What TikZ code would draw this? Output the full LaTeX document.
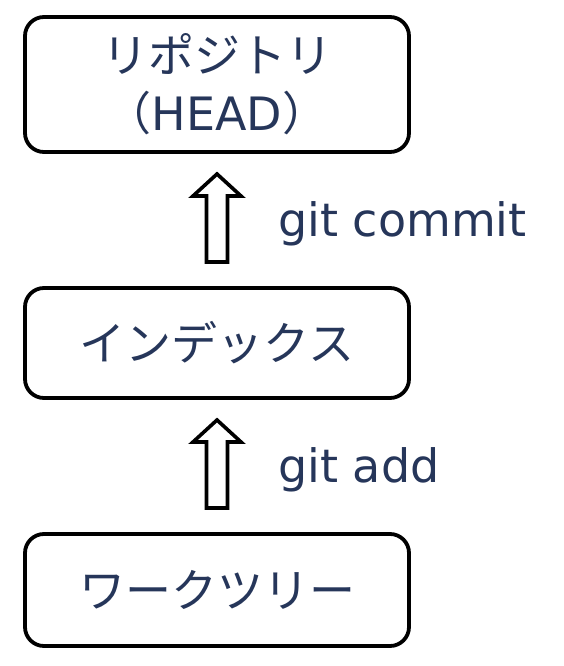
\documentclass[tikz,border=0pt]{standalone}
\usepackage{fontspec}
\setmainfont{DejaVu Sans}
\newfontfamily\jpfont{Noto Sans CJK JP}
\usetikzlibrary{calc,positioning}
\definecolor{navy}{RGB}{38,54,90}

\newcommand{\hollowup}[2]{% base, tip
  \draw[hollow arrow] ($(#1)+(-10.5,0)$) -- ($(#2)+(-10.5,22)$) -- ($(#2)+(-24,22)$) -- (#2)
    -- ($(#2)+(24,22)$) -- ($(#2)+(10.5,22)$) -- ($(#1)+(10.5,0)$) -- cycle;}

\begin{document}
\begin{tikzpicture}[x=1pt,y=-1pt]
    \tikzstyle{box}=[draw,line width=3.8pt,rounded corners=19pt,minimum width=384pt,outer sep=0pt,inner sep=0pt,align=center,text=navy,font=\fontsize{46}{58}\selectfont\jpfont]
    \tikzstyle{hollow arrow}=[draw,line width=3.6pt,fill=white,line join=miter]
    \tikzstyle{cmd}=[text=navy,inner sep=0pt,font=\fontsize{46}{55}\selectfont,anchor=base west]

    \useasboundingbox (0,0) rectangle (563,666);

    \node[box,minimum height=135pt] (repo) at (217,84.5) {\raisebox{3pt}{リポジトリ}\\\raisebox{3pt}{（{\rmfamily HEAD}）}};
    \node[box,minimum height=110pt,below=136pt of repo] (index) {インデックス};
    \node[box,minimum height=112pt,below=136pt of index] (work) {ワークツリー};

    \coordinate (tip1) at ($(repo.south)+(0,22)$);
    \coordinate (base1) at ($(index.north)+(0,-26)$);
    \hollowup{base1}{tip1}
    \node[cmd] (commit) at ($(tip1)+(61,62)$) {git commit};

    \coordinate (tip2) at ($(index.south)+(0,22)$);
    \coordinate (base2) at ($(work.north)+(0,-26)$);
    \hollowup{base2}{tip2}
    \node[cmd] (add) at ($(tip2)+(61,62)$) {git add};
\end{tikzpicture}
\end{document}
